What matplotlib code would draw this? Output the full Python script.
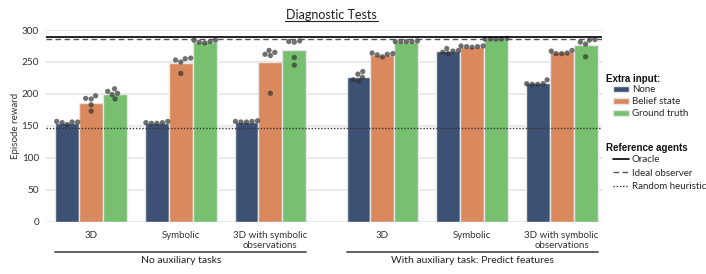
import matplotlib
matplotlib.use("Agg")
import matplotlib.pyplot as plt
import seaborn as sns
import pandas as pd
import numpy as np
from matplotlib.lines import Line2D
from matplotlib.patches import Patch

sns.set_style("whitegrid")
plt.rcParams['font.family'] = ['Lato', 'DejaVu Sans']

# ---------------- data ----------------
conditions = ["3D", "Symbolic", "3D with symbolic\nobservations",
              "3D", "Symbolic", "3D with symbolic\nobservations"]
groups = ["No auxiliary tasks", "With auxiliary task: Predict features"]
inputs = ["None", "Belief state", "Ground truth"]

bar_none = [154, 154, 156.5, 226, 266.6, 216.6]
bar_belief = [186.5, 249, 250, 260.5, 274, 265]
bar_truth = [199.5, 282, 269, 282, 286, 276.5]

seeds_none = [[157, 156, 152, 155, 156], [157, 155, 154, 154, 155], [158, 157, 156, 156, 157],
              [235, 231, 226, 222, 220], [271, 268, 265, 263, 267], [222, 216, 215, 215, 216]]
seeds_belief = [[192, 193, 197, 183, 173], [256, 253, 250, 255, 232], [268, 265, 260, 262, 201],
                [264, 261, 258, 262, 263], [275, 274, 273, 274, 275], [268, 264, 263, 263, 267]]
seeds_truth = [[208, 204, 201, 199, 192], [284, 282, 280, 281, 284], [283, 281, 282, 257, 245],
               [283, 282, 282, 282, 282], [287, 286, 286, 286, 286], [285, 284, 281, 278, 258]]

oracle = 289.5
ideal_observer = 285.5
random_heuristic = 146

# ---------------- layout ----------------
group_pos = [0, 1, 2, 3.25, 4.25, 5.25]
colors = {"None": "#3c5173", "Belief state": "#d9895d", "Ground truth": "#76c06f"}
ls_oracle = "-"
ls_ideal = (0, (4, 2.5))
ls_random = (0, (1, 1.3))

bar_rows = []
for vals, name in [(bar_none, "None"), (bar_belief, "Belief state"), (bar_truth, "Ground truth")]:
    for p, v in zip(group_pos, vals):
        bar_rows.append({"pos": p, "input": name, "reward": v})
bars_df = pd.DataFrame(bar_rows)

pt_rows = []
for seeds, name in [(seeds_none, "None"), (seeds_belief, "Belief state"), (seeds_truth, "Ground truth")]:
    for p, s in zip(group_pos, seeds):
        for v in s:
            pt_rows.append({"pos": p, "input": name, "reward": v})
pts_df = pd.DataFrame(pt_rows)

fig = plt.figure(figsize=(7.06, 2.74), dpi=100)
ax = fig.add_axes([46 / 706, 1 - 221.7 / 274, (602 - 46) / 706, 191.7 / 274])

sns.barplot(data=bars_df, x="pos", y="reward", hue="input", hue_order=inputs,
            palette=colors, native_scale=True, errorbar=None, ax=ax,
            edgecolor="#e6e6e6", linewidth=1, legend=False, width=0.8, saturation=1)
sns.swarmplot(data=pts_df, x="pos", y="reward", hue="input", hue_order=inputs,
              palette=["#333333"] * 3, native_scale=True, dodge=True, ax=ax,
              size=3.8, alpha=0.7, legend=False)

ax.axhline(oracle, color="black", lw=1.2, ls=ls_oracle, zorder=5)
ax.axhline(ideal_observer, color="#555555", lw=1.0, ls=ls_ideal, zorder=5)
ax.axhline(random_heuristic, color="#333333", lw=1.0, ls=ls_random, zorder=5)

ax.set_xlim(-0.504, 5.70)
ax.set_ylim(0, 300)
ax.set_yticks([0, 50, 100, 150, 200, 250, 300])
ax.set_xticks(group_pos)
ax.set_xticklabels(conditions, fontsize=7, linespacing=1.15)
ax.tick_params(axis="y", labelsize=7.2, pad=1.5, colors="#333333")
ax.tick_params(axis="x", pad=3, colors="#333333")
ax.set_xlabel("")
ax.set_ylabel("Episode reward", fontsize=7, labelpad=1, color="#333333")
ax.grid(axis="x", visible=False)
ax.grid(axis="y", color="#e6e6e6", lw=1.2)
for s in ax.spines.values():
    s.set_visible(False)

# group annotations
trans = ax.get_xaxis_transform()
for gi, gname in enumerate(groups):
    x0 = group_pos[gi * 3] - 0.4
    x1 = group_pos[gi * 3 + 2] + 0.4
    ax.plot([x0, x1], [-0.16, -0.16], transform=trans, color="#555555", lw=1.3, clip_on=False)
    ax.text((x0 + x1) / 2, -0.205, gname, transform=trans, ha="center", va="center",
            fontsize=7.5, color="#222222")

# title underlined
fig.text(331.5 / 706, 1 - 15 / 274, "Diagnostic Tests", ha="center", va="center", fontsize=9, color="#222222")
fig.add_artist(Line2D([285 / 706, 378 / 706], [1 - 21 / 274] * 2, color="#222222", lw=0.8))

# legends
title_font = {"weight": "bold", "size": 7, "family": "Liberation Sans"}
fig.text(605.5 / 706, 1 - 79 / 274, "Extra input:", ha="left", va="center", fontdict=title_font, color="#111111")
h1 = [Patch(facecolor=colors[n], edgecolor="#e6e6e6", label=n) for n in inputs]
fig.legend(handles=h1, loc="upper left",
           bbox_to_anchor=(612.5 / 706, 1 - 85.5 / 274), frameon=False, fontsize=7,
           handlelength=1.65, handleheight=0.6, handletextpad=0.35, labelspacing=0.3,
           borderaxespad=0, borderpad=0)

fig.text(605.5 / 706, 1 - 148 / 274, "Reference agents", ha="left", va="center", fontdict=title_font, color="#111111")
h2 = [Line2D([], [], color="black", lw=1.2, ls=ls_oracle, label="Oracle"),
      Line2D([], [], color="#555555", lw=1.0, ls=ls_ideal, label="Ideal observer"),
      Line2D([], [], color="#333333", lw=1.0, ls=ls_random, label="Random heuristic")]
fig.legend(handles=h2, loc="upper left",
           bbox_to_anchor=(612.5 / 706, 1 - 155.5 / 274), frameon=False, fontsize=7,
           handlelength=1.65, handletextpad=0.35, labelspacing=0.45,
           borderaxespad=0, borderpad=0)

fig.savefig("out.png", dpi=100)
